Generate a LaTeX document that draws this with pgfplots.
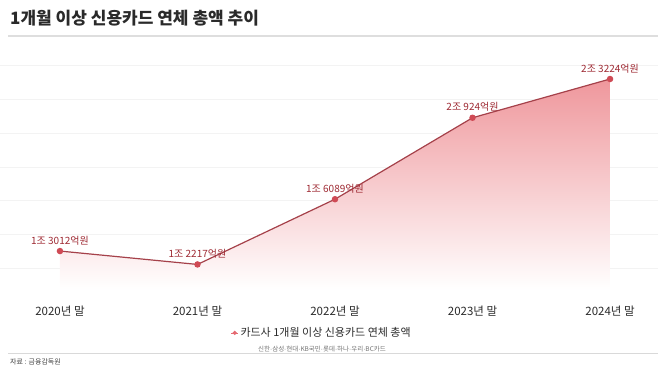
\documentclass[border=0pt]{standalone}
\usepackage{fontspec}
\setmainfont{Noto Sans CJK KR}
\newfontfamily\dotfont{Liberation Sans}
\newcommand{\md}{{\dotfont ·}}
\usepackage{pgfplots}
\pgfplotsset{compat=1.18}
\definecolor{linered}{HTML}{A5414A}
\definecolor{markred}{HTML}{CF4A55}
\definecolor{labelred}{HTML}{9E2A33}
\definecolor{fillpink}{HTML}{EF979C}
\definecolor{gridgray}{HTML}{F3F3F3}
\definecolor{textdark}{HTML}{2A2A2A}
\definecolor{legred}{HTML}{E56A72}
\begin{document}
\begin{tikzpicture}[x=1bp,y=1bp]
\path[use as bounding box] (0,0) rectangle (658,370);
\begin{axis}[
  at={(0bp,80bp)}, anchor=south west,
  scale only axis, width=658bp, height=241bp,
  xmin=-0.436, xmax=4.349, ymin=10700, ymax=25005,
  scaled y ticks=false,
  xtick={0,1,2,3,4},
  xticklabels={2020년 말,2021년 말,2022년 말,2023년 말,2024년 말},
  xticklabel style={font=\fontsize{11.5bp}{13bp}\selectfont, text=textdark, anchor=center, yshift=-21bp},
  ytick={12000,14000,16000,18000,20000,22000,24000},
  yticklabels={},
  ymajorgrids, grid style={color=gridgray, line width=0.9bp},
  axis line style={draw=none}, tick style={draw=none},
  clip=false,
  legend style={at={(0.489,-0.178)}, anchor=center, draw=none, fill=none,
    font=\fontsize{11bp}{13bp}\selectfont, text=textdark, inner sep=0pt},
  legend cell align=left,
]
\addplot[draw=none, top color=fillpink, bottom color=white, forget plot]
  coordinates {(0,13012) (1,12217) (2,16089) (3,20924) (4,23224) (4,10700) (0,10700)} -- cycle;
\addplot[color=linered, line width=1.2bp, mark=*, mark size=2.6bp,
  mark options={fill=markred, draw=markred},
  point meta=explicit symbolic,
  nodes near coords,
  nodes near coords style={font=\fontsize{10bp}{12bp}\selectfont, text=labelred, anchor=center, yshift=10.5bp},
  legend image code/.code={\draw[legred, line width=0.7bp] (0bp,0bp) -- (7bp,0bp); \fill[legred] (3.5bp,0bp) circle (1.4bp);}
] coordinates {
  (0,13012) [1조 3012억원]
  (1,12217) [1조 2217억원]
  (2,16089) [1조 6089억원]
  (3,20924) [2조 924억원]
  (4,23224) [2조 3224억원]
};
\addlegendentry{카드사 1개월 이상 신용카드 연체 총액}
\end{axis}
\node[anchor=west, font=\fontsize{17bp}{20bp}\selectfont\bfseries, text=textdark, inner sep=0pt] at (10bp,352bp) {1개월 이상 신용카드 연체 총액 추이};
\draw[color=black!13, line width=2bp] (8bp,334bp) -- (658bp,334bp);
\node[font=\fontsize{6.5bp}{8bp}\selectfont, text=black!55, inner sep=0pt] at (322bp,21bp) {신한\md 삼성\md 현대\md KB국민\md 롯데\md 하나\md 우리\md BC카드};
\draw[color=black!15, line width=0.8bp] (8bp,17bp) -- (658bp,17bp);
\node[anchor=west, font=\fontsize{7bp}{8bp}\selectfont, text=black!75, inner sep=0pt] at (10bp,8bp) {자료 : 금융감독원};
\end{tikzpicture}
\end{document}
